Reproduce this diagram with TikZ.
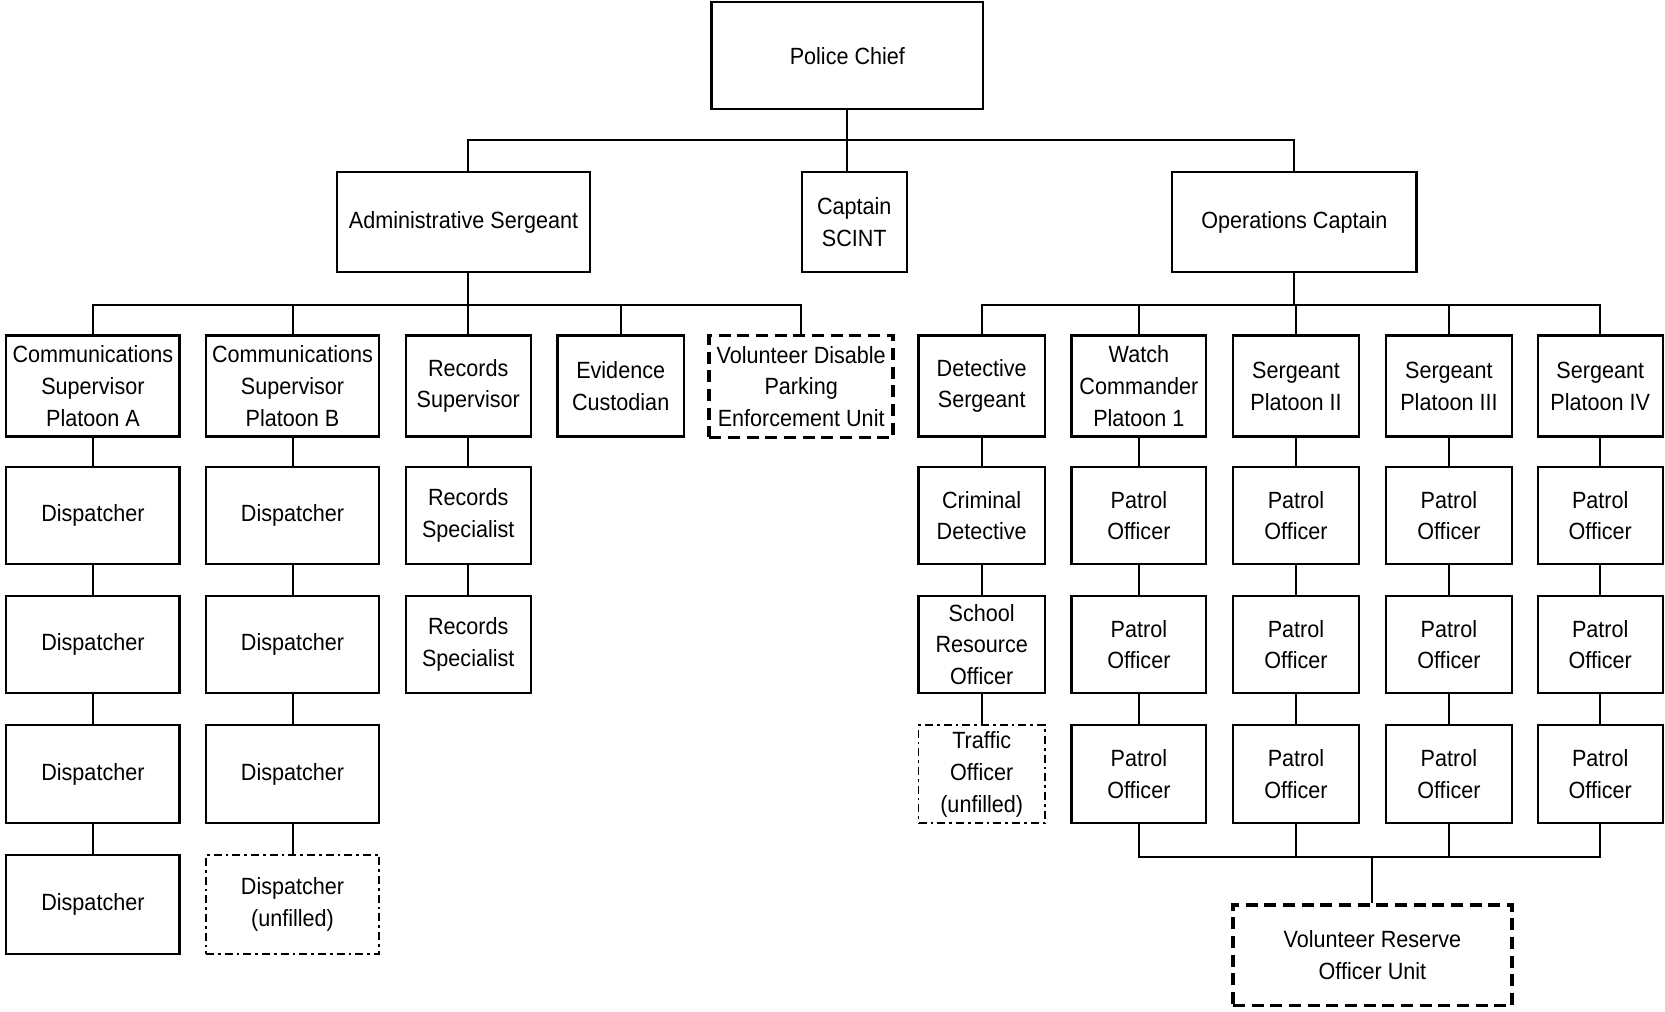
\documentclass[tikz,border=0pt]{standalone}
\usepackage{fontspec}
\setmainfont[FakeStretch=0.92]{Liberation Sans}
\begin{document}
\begin{tikzpicture}[x=0.7964pt,y=-0.7964pt,
  box/.style={draw,line width=1.6pt,inner sep=0pt,align=center,font=\fontsize{17.6pt}{23.9pt}\selectfont},
  sz/.style 2 args={minimum width=#1*0.7964pt,minimum height=#2*0.7964pt},
  thickdash/.style={line width=2.8pt,dash pattern=on 9pt off 5pt},
  dashdot/.style={line width=1.4pt,dash pattern=on 6pt off 3pt on 2pt off 3pt},
  conn/.style={line width=1.5pt}]
\useasboundingbox (0,0) rectangle (1568,953);
% top
\node[box,sz={256}{101}] (chief) at (798,52.5) {Police Chief};
\node[box,sz={239}{94}] (admin) at (436.5,209) {Administrative Sergeant};
\node[box,sz={99}{94}] (capt) at (804.5,209) {Captain\\SCINT};
\node[box,sz={230}{94}] (ops) at (1219,209) {Operations Captain};
\coordinate (bus0) at (0,132);
\coordinate (bus1) at (0,287);
\coordinate (bus3) at (0,807);
% row 1
\node[box,sz={163}{95}] (ca) at (87.5,363.5) {Communications\\Supervisor\\Platoon A};
\node[box,sz={163}{95}] (cb) at (275.5,363.5) {Communications\\Supervisor\\Platoon B};
\node[box,sz={118}{95}] (rs) at (441,363.5) {Records\\Supervisor};
\node[box,sz={119}{95}] (ec) at (584.5,363.5) {Evidence\\Custodian};
\node[box,thickdash,sz={173}{96}] (vd) at (754.5,364) {Volunteer Disable\\Parking\\Enforcement Unit};
\node[box,sz={119}{95}] (ds) at (924.5,363.5) {Detective\\Sergeant};
\node[box,sz={127}{95}] (wc) at (1072.5,363.5) {Watch\\Commander\\Platoon 1};
\node[box,sz={119}{95}] (s2) at (1220.5,363.5) {Sergeant\\Platoon II};
\node[box,sz={119}{95}] (s3) at (1364.5,363.5) {Sergeant\\Platoon III};
\node[box,sz={118}{95}] (s4) at (1507,363.5) {Sergeant\\Platoon IV};
% column A
\node[box,sz={163}{91}] (da1) at (87.5,485.5) {Dispatcher};
\node[box,sz={163}{92}] (da2) at (87.5,607) {Dispatcher};
\node[box,sz={163}{92}] (da3) at (87.5,729) {Dispatcher};
\node[box,sz={163}{93}] (da4) at (87.5,851.5) {Dispatcher};
% column B
\node[box,sz={163}{91}] (db1) at (275.5,485.5) {Dispatcher};
\node[box,sz={163}{92}] (db2) at (275.5,607) {Dispatcher};
\node[box,sz={163}{92}] (db3) at (275.5,729) {Dispatcher};
\node[box,dashdot,sz={163}{93}] (db4) at (275.5,851.5) {Dispatcher\\(unfilled)};
% records
\node[box,sz={118}{91}] (rp1) at (441,485.5) {Records\\Specialist};
\node[box,sz={118}{92}] (rp2) at (441,607) {Records\\Specialist};
% detective column
\node[box,sz={119}{91}] (cd) at (924.5,485.5) {Criminal\\Detective};
\node[box,sz={119}{92}] (sro) at (924.5,607) {School\\Resource\\Officer};
\node[box,dashdot,sz={119}{92}] (to) at (924.5,729) {Traffic\\Officer\\(unfilled)};
% patrol columns
\foreach \n/\x/\w in {w/1072.5/127,p/1220.5/119,q/1364.5/119,r/1507/118}{
  \node[box,sz={\w}{91}] (\n1) at (\x,485.5) {Patrol\\Officer};
  \node[box,sz={\w}{92}] (\n2) at (\x,607) {Patrol\\Officer};
  \node[box,sz={\w}{92}] (\n3) at (\x,729) {Patrol\\Officer};
}
\node[box,thickdash,sz={263}{95}] (vr) at (1292.5,899.5) {Volunteer Reserve\\Officer Unit};
% connectors top
\draw[conn] (chief.south) -- (chief.south |- capt.north);
\draw[conn] (admin.north -| rs.north) -- (rs.north |- bus0) -- (ops.north |- bus0) -- (ops.north);
% admin bus
\draw[conn] (admin.south -| rs.north) -- (rs.north |- bus1);
\draw[conn] (ca.north) -- (ca.north |- bus1) -- (vd.north |- bus1) -- (vd.north);
\foreach \n in {cb,rs,ec}{\draw[conn] (\n.north) -- (\n.north |- bus1);}
% ops bus
\draw[conn] (ops.south) -- (ops.south |- bus1);
\draw[conn] (ds.north) -- (ds.north |- bus1) -- (s4.north |- bus1) -- (s4.north);
\foreach \n in {wc,s2,s3}{\draw[conn] (\n.north) -- (\n.north |- bus1);}
% vertical chains
\foreach \a/\b in {ca/da1,da1/da2,da2/da3,da3/da4,cb/db1,db1/db2,db2/db3,db3/db4,rs/rp1,rp1/rp2,ds/cd,cd/sro,sro/to,
  wc/w1,w1/w2,w2/w3,s2/p1,p1/p2,p2/p3,s3/q1,q1/q2,q2/q3,s4/r1,r1/r2,r2/r3}{
  \draw[conn] (\a.south) -- (\b.north);}
% bottom bus
\draw[conn] (w3.south) -- (w3.south |- bus3) -- (r3.south |- bus3) -- (r3.south);
\foreach \n in {p3,q3}{\draw[conn] (\n.south) -- (\n.south |- bus3);}
\draw[conn] (vr.north) -- (vr.north |- bus3);
\end{tikzpicture}
\end{document}
